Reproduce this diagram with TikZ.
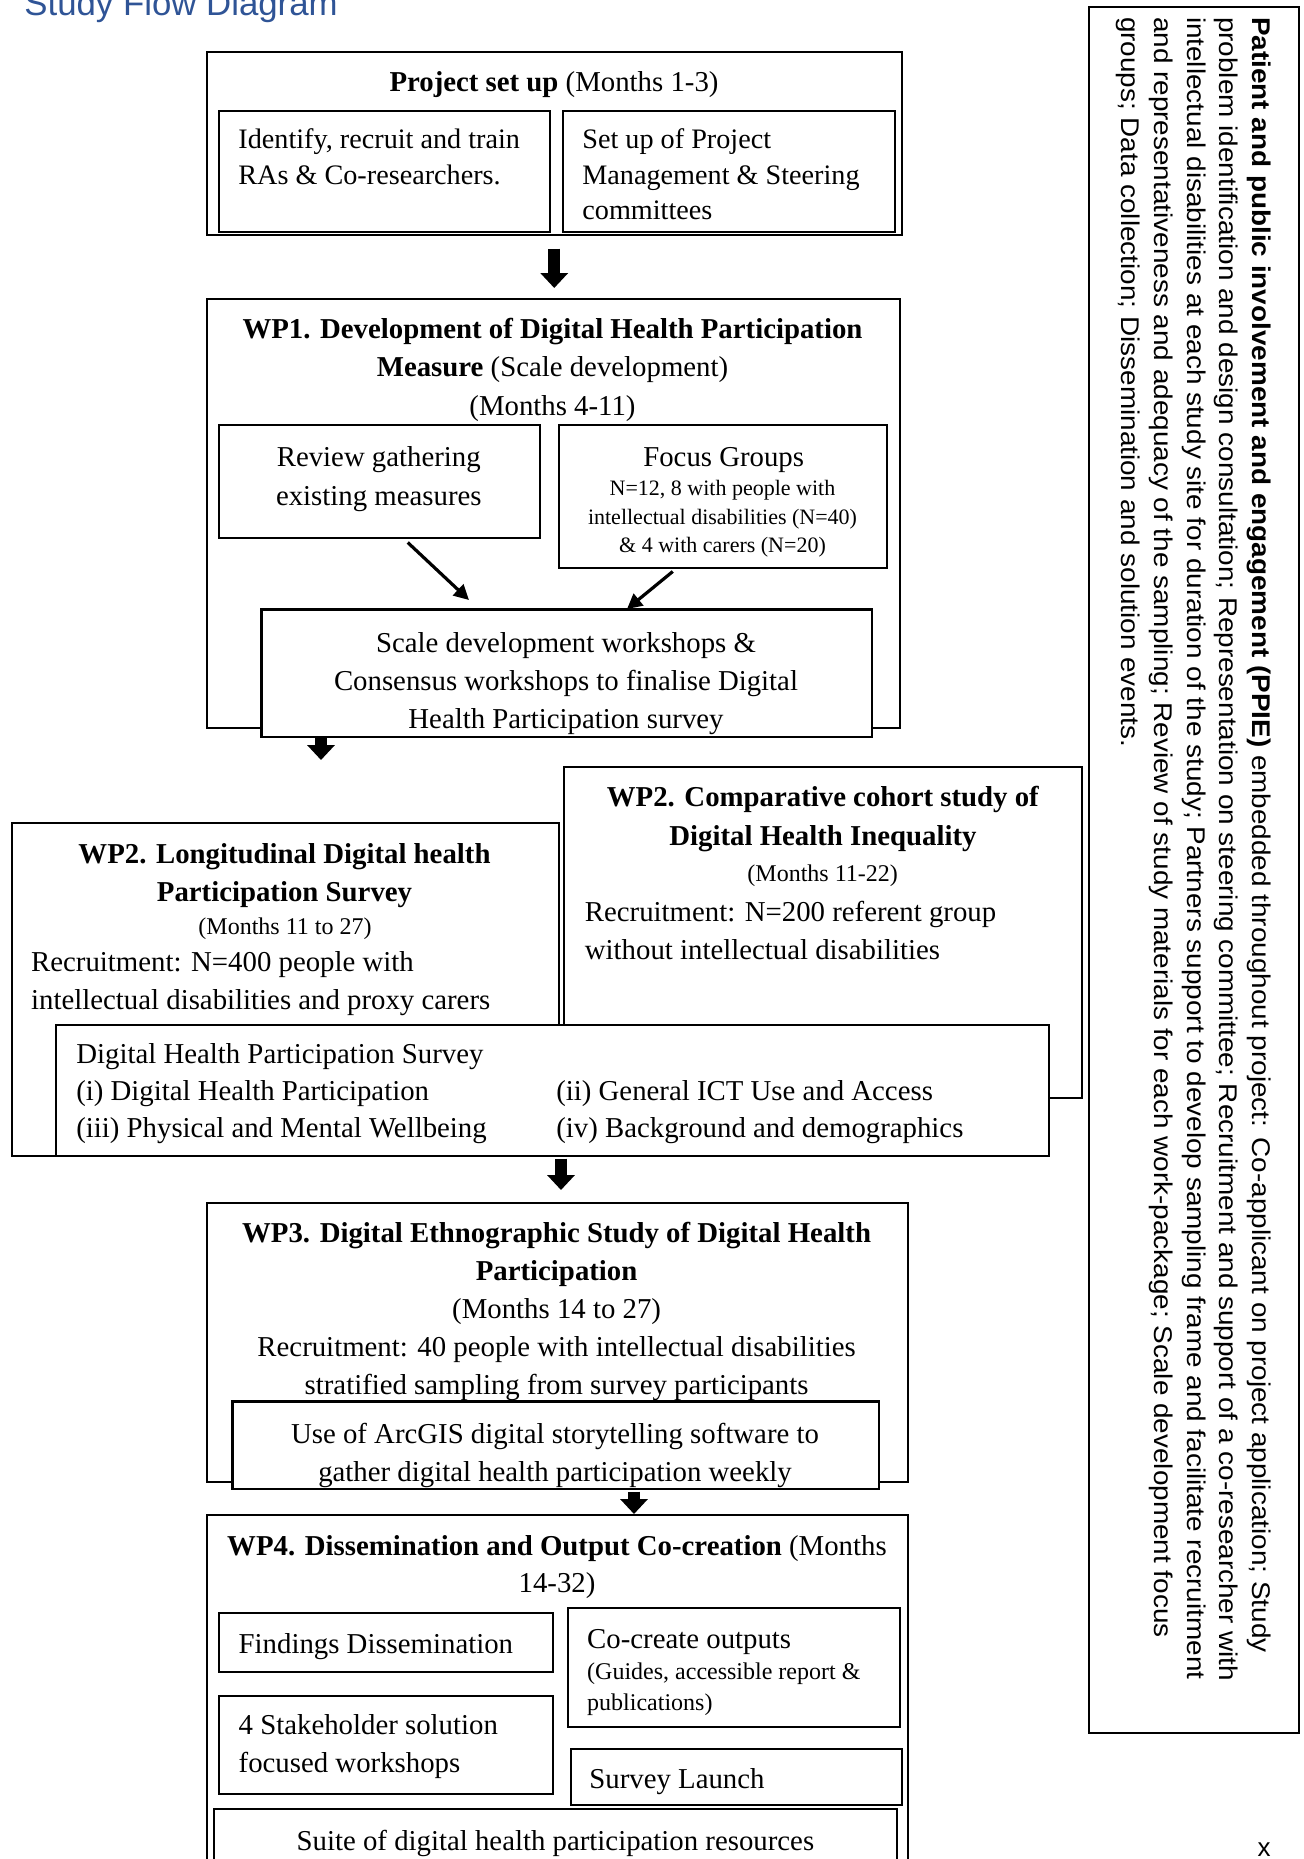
\documentclass[tikz,border=0pt]{standalone}
\usepackage{fontspec}
\setmainfont{Liberation Serif}
\newfontfamily\ppiefont{Liberation Sans}
\newfontfamily\ppiewide[FakeStretch=1.09]{Liberation Sans}
\usetikzlibrary{arrows.meta,positioning}
\definecolor{headblue}{RGB}{47,84,150}

\tikzset{
  box/.style={draw, fill=white, line width=0.75pt, inner sep=0pt, anchor=north west},
  txt/.style={inner sep=0pt, font=\fontsize{14.4}{19}\selectfont},
  smalltxt/.style={inner sep=0pt, font=\fontsize{12}{15}\selectfont},
  fat/.style={line width=6pt, -{Triangle[length=7.5pt,width=13.5pt]}},
  diagarrow/.style={line width=1.6pt, -{Triangle[length=7.5pt,width=7.5pt]}},
}

\begin{document}
\begin{tikzpicture}[x=0.5pt,y=-0.5pt]
\useasboundingbox (0,0) rectangle (1304,1859);

\node[anchor=base west, inner sep=0pt, text=headblue, font=\ppiefont\fontsize{17.4}{20}\selectfont] (title) at (24,15) {Study Flow Diagram};

% project set up
\node[box, minimum width=347.5pt, minimum height=91.5pt] (setup) at (206,51) {};
\node[box, minimum width=165.5pt, minimum height=60.5pt] (setupL) at (218,110) {};
\node[box, minimum width=166pt, minimum height=60.5pt] (setupR) at (562,110) {};
\node[txt, anchor=north] (setuptxt) at (554,64.4) {\strut\textbf{Project set up} (Months 1-3)};
\node[txt, anchor=north west, align=left, font=\fontsize{14.1}{17.8}\selectfont] (setupLtxt) at (238,123.1) {\strut Identify, recruit and train\\RAs \& Co-researchers.};
\node[txt, anchor=north west, align=left, font=\fontsize{14.1}{17.8}\selectfont] (setupRtxt) at (582,123.1) {\strut Set up of Project\\Management \& Steering\\committees};

\draw[fat, shorten <=6.5pt, shorten >=5pt] (setup.south) -- (setup.south |- 0,298);

% WP1
\node[box, minimum width=346.5pt, minimum height=214.5pt] (wp1) at (206,298) {};
\node[txt, anchor=north, align=center, font=\fontsize{14.4}{19.3}\selectfont] (wp1txt) at (552.5,310.6) {\strut\textbf{WP1. Development of Digital Health Participation}\\\textbf{Measure} (Scale development)\\(Months 4-11)};
\node[box, minimum width=160.5pt, minimum height=56.5pt] (review) at (218,424) {};
\node[txt, anchor=north, align=center, font=\fontsize{14.4}{19.5}\selectfont] (reviewtxt) at (378.8,438.3) {\strut Review gathering\\existing measures};
\node[box, minimum width=164pt, minimum height=71.5pt] (focus) at (558,424) {};
\node[txt, anchor=north] (focustxt) at (723.7,439) {\strut Focus Groups};
\node[smalltxt, anchor=north, align=center, font=\fontsize{11}{14.2}\selectfont] (focussub) at (722.5,475.6) {\strut N=12, 8 with people with\\intellectual disabilities (N=40)\\\& 4 with carers (N=20)};

\draw[diagarrow] ([xshift=14.25pt,yshift=-2pt]review.south) -- (469,600);
\draw[diagarrow] ([xshift=-25pt,yshift=-1.5pt]focus.south) -- (627,609);

\node[box, minimum width=305pt, minimum height=63.5pt] (scale) at (261,609) {};
\begin{scope}
  \clip (scale.south west) rectangle (scale.north east);
  \node[txt, anchor=north, align=center] (scaletxt) at (566,625.4) {\strut Scale development workshops \&\\Consensus workshops to finalise Digital\\Health Participation survey};
\end{scope}
\draw[line width=0.75pt] (scale.south west) rectangle (scale.north east);

\coordinate (wp2arrow) at (321,760);
\draw[fat] (scale.south -| wp2arrow) -- (wp2arrow);

% WP2
\node[box, minimum width=259pt, minimum height=165.5pt] (comp) at (563,766) {};
\node[txt, anchor=north, align=center, font=\fontsize{14.4}{19.5}\selectfont] (comptxt) at (823,778.7) {\strut\textbf{WP2. Comparative cohort study of}\\\textbf{Digital Health Inequality}};
\node[smalltxt, anchor=north] (compmonths) at (822.7,860.5) {\strut(Months 11-22)};
\node[txt, anchor=north west, align=left] (comprec) at (584.5,894.4) {\strut Recruitment: N=200 referent group\\without intellectual disabilities};

\node[box, minimum width=273.5pt, minimum height=166.5pt] (long) at (11,822) {};
\node[txt, anchor=north, align=center] (longtxt) at (284.5,836.4) {\strut\textbf{WP2. Longitudinal Digital health}\\\textbf{Participation Survey}};
\node[smalltxt, anchor=north] (longmonths) at (285,913) {\strut(Months 11 to 27)};
\node[txt, anchor=north west, align=left] (longrec) at (30.8,944.4) {\strut Recruitment: N=400 people with\\intellectual disabilities and proxy carers};

\node[box, minimum width=496.5pt, minimum height=65.5pt] (survey) at (55,1024) {};
\node[txt, anchor=north west, align=left, font=\fontsize{14.4}{18.5}\selectfont] (surveytxt) at (75.9,1037.1) {\strut Digital Health Participation Survey\\\makebox[240pt][l]{(i) Digital Health Participation}(ii) General ICT Use and Access\\\makebox[240pt][l]{(iii) Physical and Mental Wellbeing}(iv) Background and demographics};

\coordinate (wp3arrow) at (561,1202);
\draw[fat, shorten <=1pt, shorten >=6pt] (survey.south -| wp3arrow) -- (wp3arrow);

% WP3
\node[box, minimum width=350.5pt, minimum height=139.5pt] (wp3) at (206,1202) {};
\node[txt, anchor=north, align=center] (wp3txt) at (556.6,1215.4) {\strut\textbf{WP3. Digital Ethnographic Study of Digital Health}\\\textbf{Participation}\\(Months 14 to 27)\\Recruitment: 40 people with intellectual disabilities\\stratified sampling from survey participants};
\node[box, minimum width=323pt, minimum height=43.5pt] (arcgis) at (232,1401) {};
\begin{scope}
  \clip (arcgis.south west) rectangle (arcgis.north east);
  \node[txt, anchor=north, align=center] (arcgistxt) at (555,1416.4) {\strut Use of ArcGIS digital storytelling software to\\gather digital health participation weekly};
\end{scope}
\draw[line width=0.75pt] (arcgis.south west) rectangle (arcgis.north east);

\coordinate (wp4arrow) at (634,1514);
\draw[fat, shorten <=1pt] (arcgis.south -| wp4arrow) -- (wp4arrow);

% WP4
\node[box, minimum width=350.5pt, minimum height=183pt] (wp4) at (206,1514) {};
\node[txt, anchor=north, align=center, font=\fontsize{14.4}{18.5}\selectfont] (wp4txt) at (557,1529.1) {\strut\textbf{WP4. Dissemination and Output Co-creation} (Months\\14-32)};
\node[box, minimum width=167pt, minimum height=29.5pt] (findings) at (218,1612) {};
\node[txt, anchor=north west] (findingstxt) at (238.3,1626.4) {\strut Findings Dissemination};
\node[box, minimum width=167pt, minimum height=49pt] (stake) at (218,1695) {};
\node[txt, anchor=north west, align=left] (staketxt) at (238.3,1707.4) {\strut 4 Stakeholder solution\\focused workshops};
\node[box, minimum width=166pt, minimum height=59.5pt] (cocreate) at (567,1607) {};
\node[txt, anchor=north west] (cocreatetxt) at (586.8,1621.4) {\strut Co-create outputs};
\node[smalltxt, anchor=north west, align=left, font=\fontsize{12}{15.5}\selectfont] (cocreatesub) at (586.8,1657.3) {\strut(Guides, accessible report \&\\publications)};
\node[box, minimum width=165.5pt, minimum height=28pt] (launch) at (570,1748) {};
\node[txt, anchor=north west] (launchtxt) at (589,1761.4) {\strut Survey Launch};
\node[box, minimum width=341.5pt, minimum height=36pt] (suite) at (213,1808) {};
\node[txt, anchor=north] (suitetxt) at (555.4,1823.4) {\strut Suite of digital health participation resources};

% PPIE
\node[box, minimum width=105pt, minimum height=863pt] (ppie) at (1088,6) {};
\node[anchor=north west, rotate=-90, inner sep=0pt, align=left, font=\ppiewide\fontsize{12.8}{16.4}\selectfont] (ppietxt) at (1276,16.6) {\strut\textbf{Patient and public involvement and engagement (PPIE)} embedded throughout project: Co-applicant on project application; Study\\problem identification and design consultation; Representation on steering committee; Recruitment and support of a co-researcher with\\intellectual disabilities at each study site for duration of the study; Partners support to develop sampling frame and facilitate recruitment\\and representativeness and adequacy of the sampling; Review of study materials for each work-package; Scale development focus\\groups; Data collection; Dissemination and solution events.};

\node[anchor=base, inner sep=0pt, font=\ppiefont\fontsize{13}{15}\selectfont] (xmark) at (1264,1856) {x};

\end{tikzpicture}
\end{document}
